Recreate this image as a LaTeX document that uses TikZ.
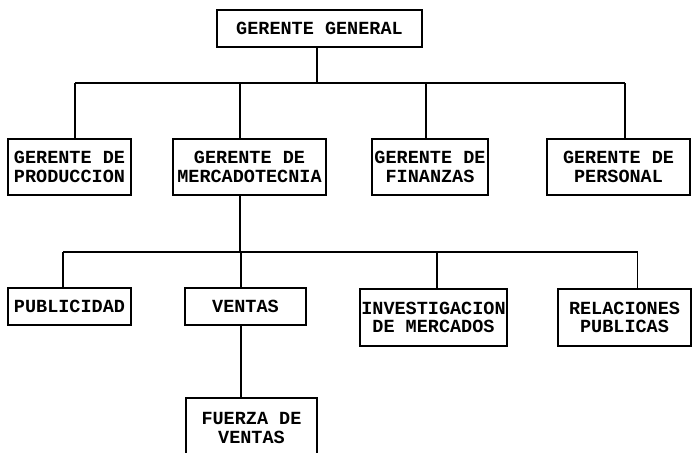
\documentclass[tikz,border=0pt]{standalone}
\usepackage{fontspec}
\setmonofont{Liberation Mono}
\tikzset{
	caja/.style={draw, line width=1.4pt, inner sep=0pt, align=center,
		font=\ttfamily\bfseries\fontsize{18.5}{18.5}\selectfont},
	linea/.style={line width=1.3pt}
}
\begin{document}
\begin{tikzpicture}[x=1pt,y=-1pt]
		\clip (0,0) rectangle (692,452);
		\node[caja, minimum width=205, minimum height=37] (gg) at (319.5,28.5) {GERENTE GENERAL};
		\node[caja, minimum width=123, minimum height=56] (prod) at (69.5,167) {GERENTE DE\\PRODUCCION};
		\node[caja, minimum width=153, minimum height=56] (merc) at (249.5,167) {GERENTE DE\\MERCADOTECNIA};
		\node[caja, minimum width=116, minimum height=56] (fin) at (430,167) {GERENTE DE\\FINANZAS};
		\node[caja, minimum width=143, minimum height=56] (pers) at (618.5,167) {GERENTE DE\\PERSONAL};
		\node[caja, minimum width=123, minimum height=37] (pub) at (69.5,306.5) {PUBLICIDAD};
		\node[caja, minimum width=121, minimum height=37] (ven) at (245.5,306.5) {VENTAS};
		\node[caja, minimum width=147, minimum height=57] (inv) at (433.5,317.5) {INVESTIGACION\\DE MERCADOS};
		\node[caja, minimum width=133, minimum height=57] (rel) at (624.5,317.5) {RELACIONES\\PUBLICAS};
		\node[caja, minimum width=131, minimum height=60] (fza) at (251.5,428) {FUERZA DE\\VENTAS};
		\coordinate (b1) at (317,83);
		\coordinate (b2) at (241,252);
		\draw[linea] ([xshift=-2.5]gg.south) -- ([xshift=-2.5]gg.south |- b1);
		\draw[linea] ([xshift=5.5]prod.north |- b1) -- ([xshift=6.5]pers.north |- b1);
		\foreach \n/\dx in {prod/5.5,merc/-9.5,fin/-4,pers/6.5}
			\draw[linea] ([xshift=\dx]\n.north |- b1) -- ([xshift=\dx]\n.north);
		\draw[linea] ([xshift=-9.5]merc.south) -- ([xshift=-9.5]merc.south |- b2);
		\draw[linea] ([xshift=-6.5]pub.north |- b2) -- ([xshift=13]rel.north |- b2);
		\foreach \n/\dx in {pub/-6.5,ven/-4.5,inv/3.5,rel/13}
			\draw[linea] ([xshift=\dx]\n.north |- b2) -- ([xshift=\dx]\n.north);
		\draw[linea] ([xshift=-4.5]ven.south) -- ([xshift=-4.5]ven.south |- fza.north);
\end{tikzpicture}
\end{document}
